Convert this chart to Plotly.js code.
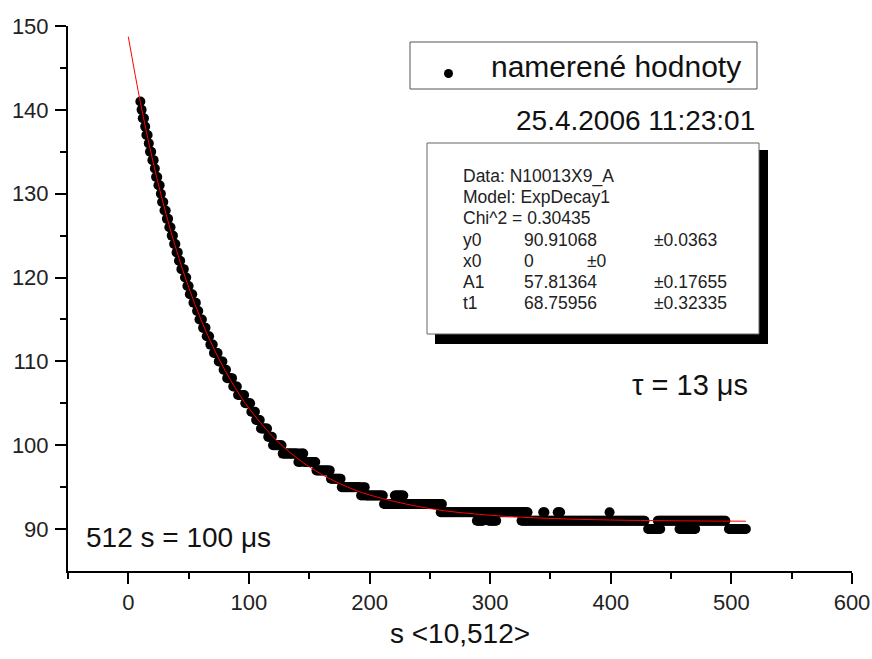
<!DOCTYPE html>
<html><head><meta charset="utf-8">
<script src="https://cdn.plot.ly/plotly-3.0.1.min.js"></script>
<style>html,body{margin:0;padding:0;background:#fff}</style>
</head><body>
<div id="chart" style="width:872px;height:659px"></div>
<script>
const runLevel = [141,140,139,138,137,136,135,134,133,132,131,130,129,128,127,126,125,124,123,122,121,120,119,118,117,116,115,114,113,112,111,110,109,108,107,106,105,104,103,102,101,100,99,98,99,98,99,98,97,96,95,94,95,94,95,94,93,94,92,91,91,91,91,92,92,92,90,90,90];
const runFrom  = [10,11,12,14,15,17,18,20,22,23,25,27,28,30,32,34,36,38,40,42,44,47,49,51,54,57,59,62,65,68,71,75,79,82,87,91,97,102,106,110,116,120,128,141,142,143,144,146,156,168,177,193,194,195,196,197,212,221,259,289,299,326,439,344,356,399,431,457,498];
const runTo    = [10,11,13,14,16,17,19,21,22,24,26,27,29,31,33,35,37,39,41,43,46,48,50,53,56,58,61,64,67,70,74,78,81,86,90,96,101,105,109,115,119,127,140,141,142,143,145,155,167,176,192,193,194,195,196,211,260,228,331,294,305,428,495,345,358,399,441,470,512];

// Fitted ExpDecay1 curve
const fitS = [0,10,20,30,40,50,60,70,80,90,100,120,140,160,180,200,250,300,350,400,450,512];
const fitY = [148.72,140.90,134.13,128.28,123.22,118.85,115.07,111.80,108.97,106.53,104.41,101.00,98.45,96.55,95.13,94.07,92.44,91.65,91.27,91.08,90.99,90.94];

const xTickVals = [0,100,200,300,400,500,600];
const xMinorVals = [-50,50,150,250,350,450,550];
const yTickVals = [90,100,110,120,130,140,150];
const yMinorVals = [95,105,115,125,135,145];

const xTitle = 's &lt;10,512&gt;';
const legendLabel = 'namerené hodnoty';
const dateLabel = '25.4.2006 11:23:01';
const tauLabel = 'τ = 13 μs';
const scaleLabel = '512 s = 100 μs';
const statsRows = [
  ['Data: N10013X9_A'],
  ['Model: ExpDecay1'],
  ['Chi^2 = 0.30435'],
  ['y0','90.91068','±0.0363'],
  ['x0','0','±0'],
  ['A1','57.81364','±0.17655'],
  ['t1','68.75956','±0.32335']
];

const xs = [], ys = [];
for (let i = 0; i < runLevel.length; i++) {
  for (let s = runFrom[i]; s <= runTo[i]; s++) { xs.push(s); ys.push(runLevel[i]); }
}

const FONT = 'Arial, "Liberation Sans", sans-serif';
const L = 68, R = 20, T = 26, B = 88, W = 872, H = 659;
const PW = W - L - R, PH = H - T - B;
const px = v => (v - L) / PW;
const py = v => (H - B - v) / PH;

const traces = [
  {x: xs, y: ys, type: 'scatter', mode: 'markers', name: legendLabel, showlegend: false,
   marker: {color: '#000', size: 10, line: {width: 0}}},
  {x: fitS, y: fitY, type: 'scatter', mode: 'lines', name: 'ExpDecay1', showlegend: false,
   line: {color: '#ff0000', width: 1, shape: 'spline', smoothing: 1}}
];

const annotations = [
  {xref: 'paper', yref: 'paper', x: px(489), y: py(66), xanchor: 'left', yanchor: 'middle',
   text: legendLabel, showarrow: false, font: {family: FONT, size: 30, color: '#111'}},
  {xref: 'paper', yref: 'paper', x: px(757), y: py(121), xanchor: 'right', yanchor: 'middle',
   text: dateLabel, showarrow: false, font: {family: FONT, size: 28, color: '#111'}},
  {xref: 'paper', yref: 'paper', x: px(630), y: py(385), xanchor: 'left', yanchor: 'middle',
   text: tauLabel, showarrow: false, font: {family: FONT, size: 29, color: '#111'}},
  {xref: 'paper', yref: 'paper', x: px(84), y: py(537), xanchor: 'left', yanchor: 'middle',
   text: scaleLabel, showarrow: false, font: {family: FONT, size: 28, color: '#111'}}
];
statsRows.forEach((row, i) => {
  const yy = py(176 + 21.2 * i);
  const cols = row.length === 1 ? [461] : [461, 522, row[0] === 'x0' ? 585 : 652];
  row.forEach((t, j) => annotations.push({
    xref: 'paper', yref: 'paper', x: px(cols[j]), y: yy, xanchor: 'left', yanchor: 'middle',
    text: t, showarrow: false, font: {family: FONT, size: 17.5, color: '#222'}
  }));
});

const shapes = [
  {type: 'rect', xref: 'paper', yref: 'paper', x0: px(410), x1: px(757), y0: py(42), y1: py(89),
   line: {color: '#555', width: 1}, fillcolor: 'rgba(0,0,0,0)'},
  {type: 'circle', xref: 'paper', yref: 'paper', x0: px(444), x1: px(453), y0: py(69), y1: py(78),
   line: {width: 0}, fillcolor: '#000'},
  {type: 'rect', xref: 'paper', yref: 'paper', x0: px(435), x1: px(768), y0: py(150), y1: py(344),
   line: {width: 0}, fillcolor: '#000'},
  {type: 'rect', xref: 'paper', yref: 'paper', x0: px(427), x1: px(759), y0: py(143), y1: py(334),
   line: {color: '#666', width: 1}, fillcolor: '#fff'}
];

const axisCommon = {
  showgrid: false, zeroline: false, showline: true, linecolor: '#000', linewidth: 2,
  ticks: 'outside', ticklen: 11, tickwidth: 2, tickcolor: '#000',
  tickfont: {family: FONT, size: 22, color: '#222'}, tickmode: 'array'
};

const layout = {
  width: W, height: H,
  margin: {l: L, r: R, t: T, b: B, pad: 0},
  paper_bgcolor: '#fff', plot_bgcolor: '#fff',
  font: {family: FONT, color: '#111'},
  showlegend: false,
  xaxis: Object.assign({}, axisCommon, {
    range: [-50, 600], tickvals: xTickVals, ticktext: xTickVals.map(String),
    ticklabelstandoff: 0,
    minor: {tickmode: 'array', tickvals: xMinorVals, ticks: 'outside', ticklen: 6, tickwidth: 2, tickcolor: '#000', showgrid: false},
    title: {text: xTitle, font: {family: FONT, size: 28, color: '#111'}, standoff: 9}
  }),
  yaxis: Object.assign({}, axisCommon, {
    range: [85, 150], tickvals: yTickVals, ticktext: yTickVals.map(String),
    ticklabelstandoff: 2,
    minor: {tickmode: 'array', tickvals: yMinorVals, ticks: 'outside', ticklen: 6, tickwidth: 2, tickcolor: '#000', showgrid: false}
  }),
  annotations: annotations,
  shapes: shapes
};

Plotly.newPlot('chart', traces, layout, {displayModeBar: false, staticPlot: true});
</script>
</body></html>
